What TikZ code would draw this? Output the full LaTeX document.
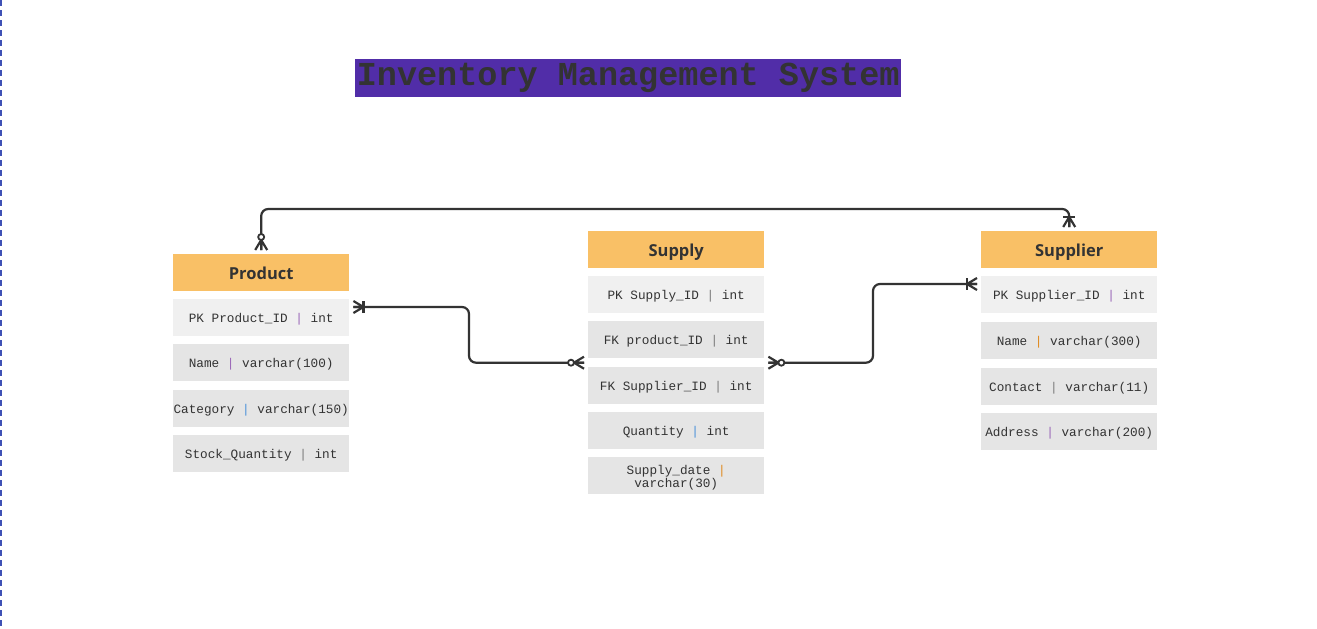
\documentclass[tikz,border=0pt]{standalone}
\usepackage{fontspec}
\setmainfont{Open Sans}
\newfontfamily\monofam{Liberation Mono}
\usetikzlibrary{calc}
\definecolor{titlebg}{HTML}{512DA8}
\definecolor{txt}{HTML}{333333}
\definecolor{hdr}{HTML}{F9C066}
\definecolor{rowlight}{HTML}{F0F0F0}
\definecolor{rowgray}{HTML}{E5E5E5}
\definecolor{sepP}{HTML}{9A66B8}
\definecolor{sepB}{HTML}{4A90D9}
\definecolor{sepO}{HTML}{E08A1E}
\definecolor{sepG}{HTML}{7A7A7A}
\definecolor{dashblue}{HTML}{3F51B5}
\newcommand{\sepbar}[1]{\textcolor{#1}{|}}
\tikzset{
  conn/.style={draw=txt, line width=2.2pt},
  hdrbox/.style={anchor=north west, minimum width=176pt, minimum height=37pt, inner sep=0pt, fill=hdr, text=txt, text height=16pt, text depth=2pt, font=\fontsize{16.5}{18}\selectfont\bfseries},
  rowbox/.style={anchor=north west, minimum width=176pt, minimum height=37pt, inner sep=0pt, fill=rowgray, text=txt, font=\monofam\fontsize{12.7}{13}\selectfont},
  onerow/.style={rowbox, text height=13pt, text depth=4pt},
  pkbox/.style={onerow, fill=rowlight},
  zeromany/.pic={
    \draw[conn] (-10,0) -- (0,6) (-10,0) -- (0,-6) (-10,0) -- (0,0);
    \draw[conn, line width=1.8pt, fill=white] (-13,0) circle (3);
  },
  onemany/.pic={
    \draw[conn] (-10,0) -- (0,6) (-10,0) -- (0,-6) (-10,0) -- (0,0);
    \draw[conn] (-10,-6) -- (-10,6);
  }
}
\begin{document}
\begin{tikzpicture}[x=1pt, y=-1pt]
\useasboundingbox (0,0) rectangle (1317,629);
\draw[dashblue, line width=1.2pt, dash pattern=on 6pt off 4pt] (1,0) -- (1,629);

% title
\node[anchor=north west, fill=titlebg, minimum width=546pt, minimum height=38pt, inner sep=0pt, text=txt, font=\monofam\fontsize{33.5}{36}\selectfont\bfseries] (title) at (355,59) {Inventory Management System};

% Product
\node[hdrbox] (prodh) at (173,254) {Product};
\node[pkbox] (prodpk) at (173,299) {PK Product\_ID \sepbar{sepP} int};
\node[onerow] (prodname) at (173,344) {Name \sepbar{sepP} varchar(100)};
\node[onerow] (prodcat) at (173,390) {Category \sepbar{sepB} varchar(150)};
\node[onerow] (prodstock) at (173,435) {Stock\_Quantity \sepbar{sepG} int};

% Supply
\node[hdrbox] (supph) at (588,231) {Supply};
\node[pkbox] (supppk) at (588,276) {PK Supply\_ID \sepbar{sepG} int};
\node[onerow] (suppfk1) at (588,321) {FK product\_ID \sepbar{sepG} int};
\node[onerow] (suppfk2) at (588,367) {FK Supplier\_ID \sepbar{sepG} int};
\node[onerow] (suppqty) at (588,412) {Quantity \sepbar{sepB} int};
\node[rowbox] (suppdate) at (588,457) {\begin{tabular}{@{}c@{}}\rule{0pt}{15pt}Supply\_date \sepbar{sepO}\\varchar(30)\end{tabular}};

% Supplier
\node[hdrbox] (suph) at (981,231) {Supplier};
\node[pkbox] (suphpk) at (981,276) {PK Supplier\_ID \sepbar{sepP} int};
\node[onerow] (suphname) at (981,322) {Name \sepbar{sepO} varchar(300)};
\node[onerow] (suphcontact) at (981,368) {Contact \sepbar{sepG} varchar(11)};
\node[onerow] (suphaddr) at (981,413) {Address \sepbar{sepP} varchar(200)};

% connector end points
\coordinate (a1) at ([yshift=4pt]prodh.north);
\coordinate (a2) at ([yshift=4pt]suph.north);
\coordinate (b1) at ($(prodpk.north east)+(4,8)$);
\coordinate (b2) at ($(suppfk1.south west)!0.5!(suppfk2.north west)+(-4,0)$);
\coordinate (c1) at ($(suppfk1.south east)!0.5!(suppfk2.north east)+(4,0)$);
\coordinate (c2) at ($(suphpk.north west)+(-4,8)$);

% Product -- Supplier
\draw[conn, rounded corners=7pt] (a1) -- ++(0,-41) -| (a2);
\pic[rotate=-90] at (a1) {zeromany};
\pic[rotate=-90] at (a2) {onemany};

% Product -- Supply
\draw[conn, rounded corners=7pt] (b1) -| (469,335) |- (b2);
\pic[rotate=180] at (b1) {onemany};
\pic at (b2) {zeromany};

% Supply -- Supplier
\draw[conn, rounded corners=7pt] (c1) -| (873,320) |- (c2);
\pic[rotate=180] at (c1) {zeromany};
\pic at (c2) {onemany};
\end{tikzpicture}
\end{document}
